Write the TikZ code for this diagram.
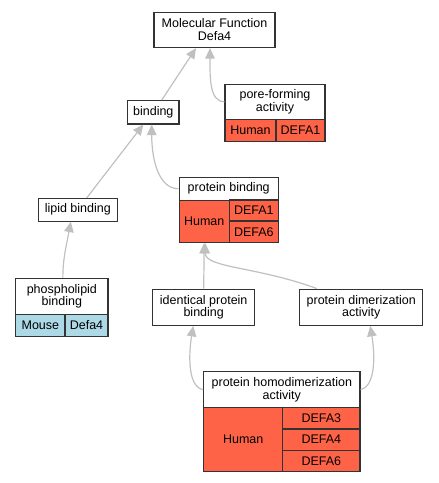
\documentclass[tikz,border=0pt]{standalone}
\usepackage{fontspec}
\setmainfont{Liberation Sans}
\usetikzlibrary{arrows.meta}
\definecolor{humanred}{HTML}{FF6347}
\definecolor{mouseblue}{HTML}{ADD8E6}
\definecolor{isagrey}{HTML}{C0C0C0}

\begin{document}
\begin{tikzpicture}[x=1pt,y=-1pt,
  box/.style={draw=black!80,line width=1.1pt,inner sep=0pt,align=center,font=\fontsize{12.5}{12.8}\selectfont},
  term/.style={box,fill=white},
  human/.style={box,fill=humanred},
  mouse/.style={box,fill=mouseblue},
  isa/.style={draw=isagrey,line width=1.2pt,-{Triangle[length=10.5pt,width=9.5pt]}}]
\useasboundingbox (0,0) rectangle (439,483);

% top
\node (mf) at (214.5,29.8)[term,minimum width=121pt,minimum height=35.5pt]{Molecular Function\\Defa4};

\begin{scope}
\node (pore) at (275,101.7)[term,minimum width=100pt,minimum height=35.3pt]{pore-forming\\activity};
\node (porehum) at (250.5,130.2)[human,minimum width=51pt,minimum height=21.7pt]{Human};
\node (poredefa) at (300.5,130.2)[human,minimum width=49pt,minimum height=21.7pt]{DEFA1};
\end{scope}

\node (binding) at (153.3,112.3)[term,minimum width=51.3pt,minimum height=23.3pt]{binding};
\node (lipid) at (77.8,209.7)[term,minimum width=79pt,minimum height=22.7pt]{lipid binding};

\begin{scope}
\node (pb) at (228.7,188.7)[term,minimum width=99.3pt,minimum height=22.7pt]{protein binding};
\node (pbhum) at (204.2,221.2)[human,minimum width=50.3pt,minimum height=42.3pt]{Human};
\node (pbdefa1) at (253.8,210.5)[human,minimum width=49pt,minimum height=21pt]{DEFA1};
\node (pbdefa6) at (253.8,231.7)[human,minimum width=49pt,minimum height=21.3pt]{DEFA6};
\end{scope}

\begin{scope}
\node (phospho) at (61.85,296.3)[term,minimum width=92.3pt,minimum height=36pt]{phospholipid\\binding};
\node (phosmouse) at (40.35,325.2)[mouse,minimum width=49.3pt,minimum height=21.7pt]{Mouse};
\node (phosdefa) at (86.5,325.2)[mouse,minimum width=43pt,minimum height=21.7pt]{Defa4};
\end{scope}

\node (ident) at (203.7,307.2)[term,minimum width=102pt,minimum height=36.3pt]{identical protein\\binding};
\node (dimer) at (361.2,307.2)[term,minimum width=123pt,minimum height=36.3pt]{protein dimerization\\activity};

\begin{scope}
\node (homo) at (281.85,389.5)[term,minimum width=156.3pt,minimum height=35.6pt]{protein homodimerization\\activity};
\node (homohum) at (243.2,439.5)[human,minimum width=79pt,minimum height=64.4pt]{Human};
\node (homodefa3) at (321.35,418.15)[human,minimum width=77.3pt,minimum height=21.7pt]{DEFA3};
\node (homodefa4) at (321.35,439.65)[human,minimum width=77.3pt,minimum height=21.3pt]{DEFA4};
\node (homodefa6) at (321.35,461)[human,minimum width=77.3pt,minimum height=21.4pt]{DEFA6};
\end{scope}

% is_a edges
\draw[isa] ([xshift=8.4pt]binding.north) -- ([xshift=-18.5pt]mf.south);
\draw[isa] (pore.west) .. controls +(-15,0) and +(0,30) .. ([xshift=-4.5pt]mf.south);
\draw[isa] ([xshift=9pt]lipid.north) -- ([xshift=-10pt]binding.south);
\draw[isa] (pb.west) .. controls +(-20,0) and +(0,35) .. ([xshift=-1.6pt]binding.south);
\draw[isa] ([xshift=1pt]phospho.north) .. controls +(0,-20) and +(-4,22) .. ([xshift=-7pt]lipid.south);
\draw[isa] (ident.north) -- (pbhum.south);
\draw[isa] ([xshift=-44.5pt]dimer.north) .. controls +(-60,-22) and +(0,25) .. ([xshift=1pt]pbhum.south);
\draw[isa] (homo.west) .. controls +(-15,-2) and +(-5,30) .. ([xshift=-10.4pt]ident.south);
\draw[isa] (homo.east) .. controls +(15,-3) and +(5,30) .. ([xshift=9pt]dimer.south);
\end{tikzpicture}
\end{document}
